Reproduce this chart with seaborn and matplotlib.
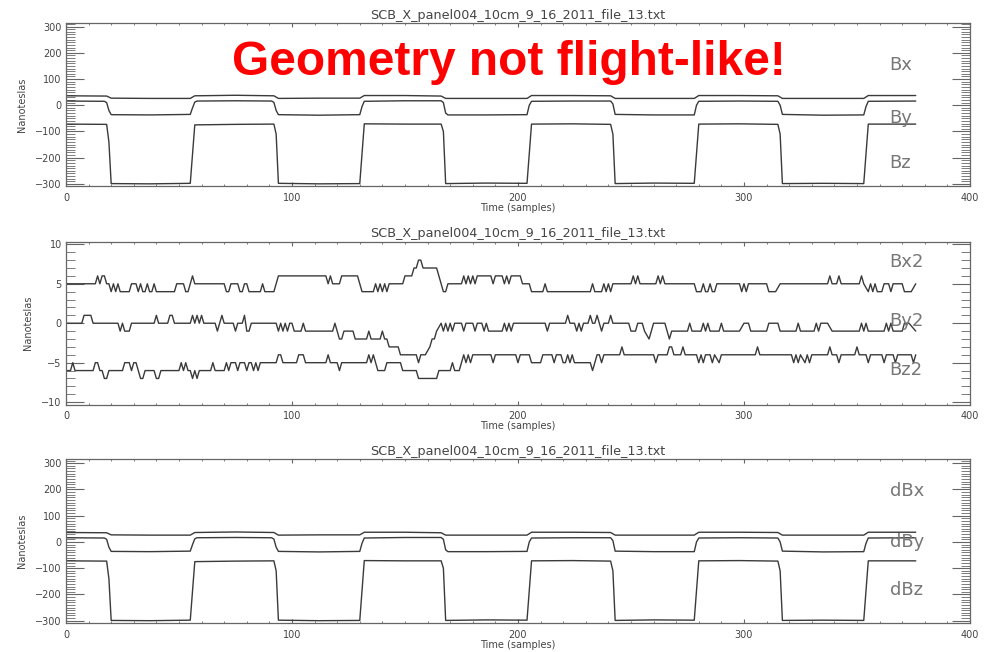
import matplotlib
matplotlib.use("Agg")
import matplotlib.pyplot as plt
from matplotlib.ticker import MultipleLocator
import seaborn as sns

# ---- data (sample index, nanoteslas) ----
TITLE = "SCB_X_panel004_10cm_9_16_2011_file_13.txt"

bx = [(0, 36), (18, 35), (20, 27), (37, 26), (55, 26), (57, 36), (75, 38), (92, 36),
      (94, 26), (112, 27), (130, 27), (132, 37), (150, 37), (166, 35), (168, 26),
      (186, 26), (204, 26), (206, 37), (224, 37), (241, 36), (243, 26), (260, 26),
      (278, 26), (280, 37), (298, 37), (315, 36), (317, 26), (335, 26), (353, 26),
      (355, 37), (376, 37)]

by = [(0, 16), (17, 15), (18, 10), (19, -20), (20, -36), (37, -37), (55, -35), (56, -10),
      (57, 12), (58, 16), (75, 17), (91, 16), (92, 11), (93, -20), (94, -36), (112, -38),
      (130, -36), (131, -5), (132, 15), (150, 17), (166, 17), (167, 10), (168, -30),
      (169, -37), (186, -37), (204, -36), (205, 0), (206, 15), (224, 16), (241, 16),
      (242, 5), (243, -35), (260, -37), (278, -37), (279, 0), (280, 15), (298, 16),
      (315, 15), (316, 0), (317, -35), (335, -38), (353, -37), (354, -5), (355, 15),
      (376, 16)]

bz = [(0, -72), (18, -73), (19, -140), (20, -299), (37, -300), (55, -298), (57, -75),
      (75, -73), (92, -72), (93, -110), (94, -298), (112, -300), (130, -299), (132, -71),
      (150, -72), (166, -72), (167, -100), (168, -299), (186, -297), (204, -298),
      (206, -72), (224, -71), (241, -73), (242, -110), (243, -299), (260, -297),
      (278, -298), (280, -72), (298, -71), (315, -73), (316, -110), (317, -299),
      (335, -298), (353, -299), (355, -72), (376, -72)]

bx2 = [(0, 5), (13, 5), (14, 6), (15, 5), (16, 6), (17, 6), (18, 5), (19, 5), (20, 4),
       (21, 5), (22, 4), (23, 5), (24, 4), (28, 4), (29, 5), (31, 5), (32, 4), (33, 5),
       (34, 4), (35, 4), (36, 5), (37, 4), (38, 4), (39, 5), (40, 4), (48, 4), (49, 5),
       (52, 5), (53, 4), (54, 4), (55, 5), (56, 6), (57, 5), (70, 5), (71, 4), (72, 4),
       (73, 5), (76, 5), (77, 4), (78, 4), (79, 5), (80, 5), (81, 4), (86, 4), (87, 5),
       (88, 4), (92, 4), (94, 6), (115, 6), (116, 5), (117, 6), (118, 5), (121, 5),
       (122, 6), (129, 6), (131, 4), (136, 4), (137, 5), (138, 4), (139, 5), (140, 4),
       (141, 5), (142, 4), (143, 5), (149, 5), (150, 6), (153, 6), (154, 7), (155, 7),
       (156, 8), (157, 8), (158, 7), (164, 7), (165, 6), (166, 5), (167, 4), (168, 4),
       (169, 5), (175, 5), (176, 6), (177, 5), (178, 6), (179, 5), (180, 6), (181, 5),
       (182, 6), (188, 6), (189, 5), (190, 6), (193, 6), (194, 5), (195, 6), (196, 5),
       (197, 6), (201, 6), (202, 5), (205, 5), (206, 4), (211, 4), (212, 5), (213, 4),
       (232, 4), (233, 5), (234, 4), (237, 4), (238, 5), (239, 4), (240, 5), (241, 4),
       (242, 5), (250, 5), (251, 6), (252, 5), (253, 6), (254, 5), (261, 5), (262, 6),
       (263, 5), (264, 6), (265, 5), (278, 5), (279, 4), (281, 4), (282, 5), (283, 4),
       (284, 4), (285, 5), (286, 4), (287, 4), (288, 5), (298, 5), (299, 4), (300, 5),
       (301, 4), (302, 5), (310, 5), (311, 4), (314, 4), (316, 5), (337, 5), (338, 6),
       (339, 5), (341, 5), (342, 6), (343, 5), (351, 5), (352, 6), (353, 5), (355, 4),
       (356, 5), (357, 4), (358, 5), (359, 4), (361, 4), (362, 5), (364, 5), (365, 4),
       (366, 5), (370, 5), (371, 4), (374, 4), (376, 5)]

by2 = [(0, 0), (7, 0), (8, 1), (11, 1), (12, 0), (23, 0), (24, -1), (25, 0), (26, -1),
       (28, -1), (29, 0), (39, 0), (40, 1), (41, 0), (45, 0), (46, 1), (47, 1), (48, 0),
       (55, 0), (56, 1), (57, 0), (58, 1), (59, 0), (60, 1), (61, 0), (66, 0), (67, -1),
       (68, 0), (69, 1), (70, 0), (74, 0), (75, -1), (76, 0), (78, 0), (79, 1), (80, -1),
       (81, -1), (82, 0), (93, 0), (94, -1), (95, 0), (96, -1), (97, 0), (98, -1), (99, 0),
       (100, 0), (101, -1), (104, -1), (105, 0), (106, -1), (118, -1), (119, 0), (120, -1),
       (121, -2), (122, -2), (123, -1), (127, -1), (128, -2), (133, -2), (134, -1),
       (135, -2), (139, -2), (140, -1), (141, -2), (142, -2), (143, -3), (147, -3),
       (148, -4), (155, -4), (156, -5), (157, -4), (159, -4), (161, -3), (162, -2),
       (163, -2), (164, -1), (166, 0), (167, -1), (168, 0), (169, -1), (170, 0), (171, -1),
       (172, 0), (175, 0), (176, -1), (177, 0), (180, 0), (181, -1), (182, 0), (184, 0),
       (185, -1), (186, 0), (187, -1), (193, -1), (194, 0), (195, -1), (196, 0), (197, -1),
       (198, 0), (212, 0), (213, -1), (214, 0), (221, 0), (222, 1), (223, 0), (225, 0),
       (226, -1), (227, 0), (228, -1), (229, 0), (231, 0), (232, 1), (233, 0), (234, 0),
       (235, 1), (236, 0), (237, -1), (238, 0), (240, 0), (241, 1), (242, 0), (249, 0),
       (250, -1), (252, -1), (253, 0), (255, 0), (256, -1), (258, -2), (260, 0), (265, 0),
       (267, -2), (268, -1), (275, -1), (276, 0), (277, -1), (281, -1), (282, 0), (283, -1),
       (284, 0), (285, -1), (289, -1), (290, 0), (291, -1), (298, -1), (300, 0), (302, 0),
       (303, -1), (310, -1), (311, 0), (315, 0), (316, -1), (323, -1), (324, 0), (325, -1),
       (331, -1), (332, 0), (333, -1), (334, 0), (337, 0), (339, -1), (351, -1), (352, 0),
       (353, -1), (354, 0), (355, -1), (362, -1), (363, 0), (364, -1), (365, 0), (366, -1),
       (370, -1), (371, 0), (373, 0), (376, -1)]

bz2 = [(0, -6), (2, -6), (3, -5), (4, -6), (12, -6), (13, -5), (14, -5), (15, -6), (16, -6),
       (17, -7), (18, -7), (19, -6), (25, -6), (26, -5), (28, -5), (29, -6), (30, -5),
       (31, -5), (32, -6), (33, -7), (34, -7), (35, -6), (39, -6), (40, -7), (41, -7),
       (42, -6), (50, -6), (51, -5), (52, -6), (53, -5), (54, -6), (55, -6), (56, -7),
       (57, -6), (58, -7), (59, -6), (64, -6), (65, -5), (66, -6), (70, -6), (71, -5),
       (72, -6), (73, -5), (75, -5), (76, -6), (77, -5), (79, -5), (80, -6), (81, -5),
       (82, -5), (83, -6), (84, -5), (85, -6), (86, -5), (93, -5), (94, -4), (95, -4),
       (96, -5), (102, -5), (103, -4), (105, -4), (106, -5), (115, -5), (116, -4),
       (117, -5), (120, -5), (121, -6), (122, -5), (133, -5), (134, -4), (135, -5),
       (136, -4), (137, -5), (138, -6), (141, -6), (142, -5), (148, -5), (149, -6),
       (155, -6), (156, -7), (164, -7), (165, -6), (170, -6), (171, -5), (172, -6),
       (174, -6), (175, -5), (176, -4), (177, -5), (178, -4), (179, -5), (180, -4),
       (188, -4), (189, -5), (190, -4), (199, -4), (200, -5), (201, -4), (205, -4),
       (206, -5), (210, -5), (211, -4), (215, -4), (216, -5), (217, -4), (219, -4),
       (220, -5), (221, -5), (222, -4), (223, -5), (224, -4), (225, -5), (232, -5),
       (233, -6), (234, -5), (235, -4), (236, -4), (237, -5), (238, -4), (245, -4),
       (246, -3), (247, -4), (260, -4), (261, -5), (262, -4), (266, -4), (267, -3),
       (268, -3), (269, -4), (272, -4), (273, -3), (274, -4), (279, -4), (280, -5),
       (281, -4), (282, -5), (283, -4), (285, -4), (286, -5), (287, -4), (289, -5),
       (290, -4), (305, -4), (306, -3), (307, -4), (321, -4), (322, -5), (323, -4),
       (324, -5), (325, -4), (327, -5), (328, -4), (329, -5), (330, -4), (337, -4),
       (338, -3), (339, -4), (341, -4), (342, -5), (343, -4), (349, -4), (350, -3),
       (351, -4), (354, -4), (355, -5), (356, -4), (361, -4), (362, -5), (363, -4),
       (366, -4), (367, -5), (368, -4), (374, -4), (375, -5), (376, -4)]

# ---- style ----
sns.set_theme(style="white")
plt.rcParams.update({
    "font.family": ["DejaVu Sans"],
    "axes.edgecolor": "#666666",
    "axes.linewidth": 0.9,
    "text.color": "#444444",
    "axes.labelcolor": "#444444",
    "xtick.color": "#666666",
    "ytick.color": "#666666",
    "xtick.labelcolor": "#444444",
    "ytick.labelcolor": "#444444",
})

LINE = "#3a3a3a"
LABEL = "#777777"

panels = [
    {"rect": [0.0665, 0.714, 0.9113, 0.250], "ylim": (-310, 312), "major": 100, "minor": 10,
     "series": [(bx, "Bx", 154), (by, "By", -48), (bz, "Bz", -220)]},
    {"rect": [0.0665, 0.379, 0.9113, 0.2505], "ylim": (-10.35, 10.35), "major": 5, "minor": 1,
     "series": [(bx2, "Bx2", 7.8), (by2, "By2", 0.3), (bz2, "Bz2", -5.9)]},
    {"rect": [0.0665, 0.044, 0.9113, 0.252], "ylim": (-310, 316), "major": 100, "minor": 10,
     "series": [(bx, "dBx", 196), (by, "dBy", -2), (bz, "dBz", -183)]},
]

fig = plt.figure(figsize=(9.92, 6.52), dpi=100)

for p in panels:
    ax = fig.add_axes(p["rect"])
    for pts, name, ypos in p["series"]:
        sns.lineplot(x=[q[0] for q in pts], y=[q[1] for q in pts], ax=ax, color=LINE,
                     lw=1.0, estimator=None, sort=False, legend=False)
        ax.text(364.5, ypos, name, color=LABEL, fontsize=13, ha="left", va="center")

    ax.set_xlim(0, 400)
    ax.set_ylim(*p["ylim"])
    ax.xaxis.set_major_locator(MultipleLocator(100))
    ax.xaxis.set_minor_locator(MultipleLocator(10))
    ax.yaxis.set_major_locator(MultipleLocator(p["major"]))
    ax.yaxis.set_minor_locator(MultipleLocator(p["minor"]))
    ax.tick_params(axis="y", which="major", direction="in", length=13, width=0.8,
                   left=True, right=True, labelsize=7, pad=3)
    ax.tick_params(axis="y", which="minor", direction="in", length=6.5, width=0.6,
                   left=True, right=True)
    ax.tick_params(axis="x", which="major", direction="in", length=2.6, width=0.8,
                   top=True, bottom=True, labelsize=7, pad=4.5)
    ax.tick_params(axis="x", which="minor", direction="in", length=1.4, width=0.6,
                   top=True, bottom=True)
    ax.set_title(TITLE, fontsize=9.2, pad=3, color="#444444")
    ax.set_xlabel("Time (samples)", fontsize=7, labelpad=0)
    ax.set_ylabel("Nanoteslas", fontsize=7, labelpad=6)

fig.text(0.513, 1 - 75 / 652, "Geometry not flight-like!", color="#ff0000",
         fontsize=34.5, fontweight="bold", family=["Liberation Sans", "DejaVu Sans"],
         ha="center", va="baseline")

fig.savefig("out.png", dpi=100)
